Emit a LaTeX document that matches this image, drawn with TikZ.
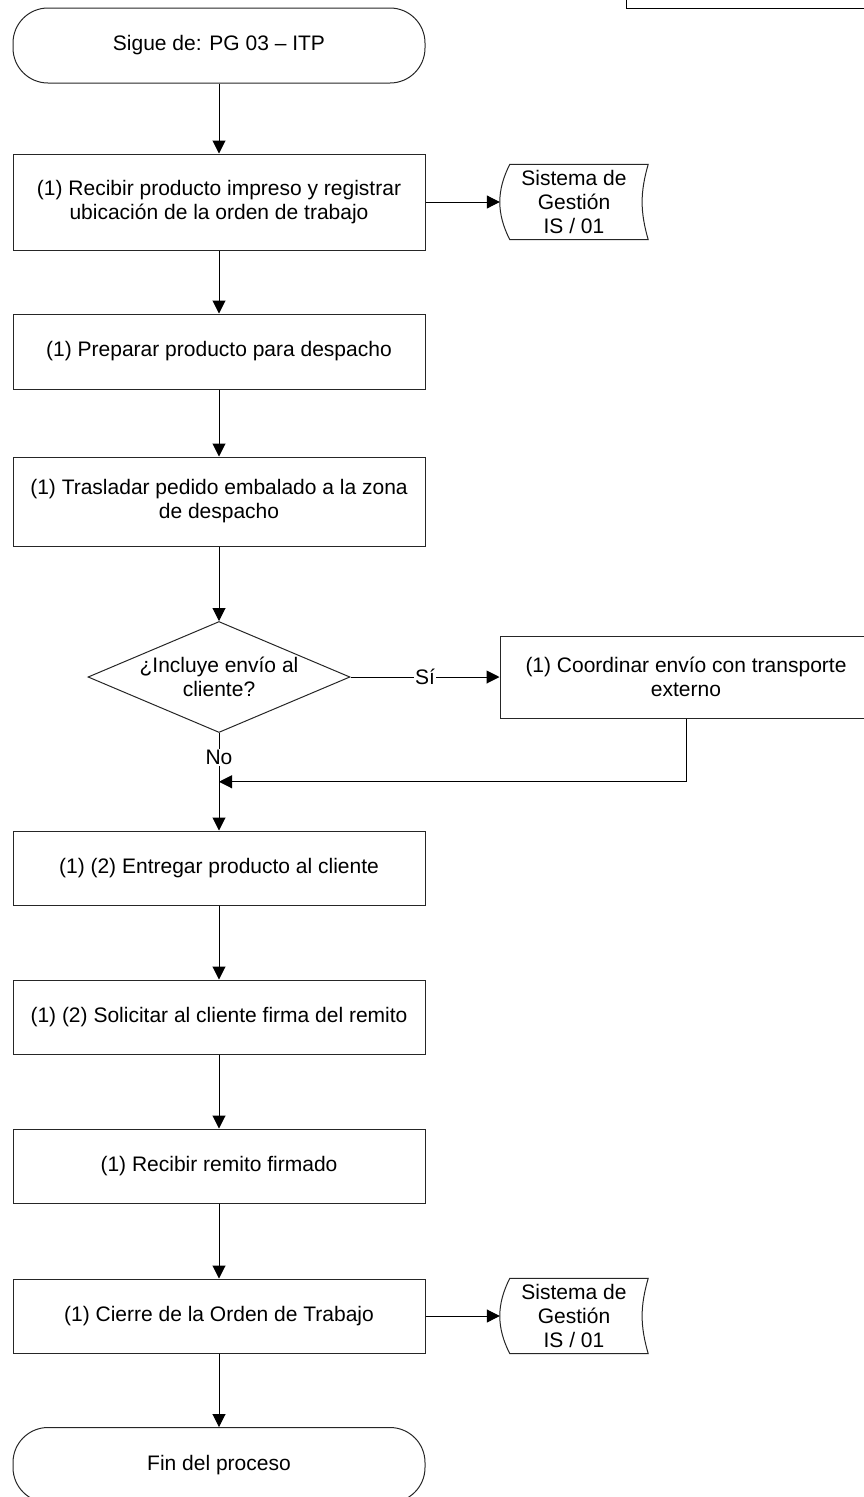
\documentclass[tikz,border=0pt]{standalone}
\usepackage{fontspec}
\setmainfont{Liberation Sans}
\usetikzlibrary{arrows.meta,calc,shapes.geometric}

\tikzset{
  link/.style={line width=1pt},
  flow/.style={link, -{Triangle[length=13pt,width=13pt]}},
  proc/.style={draw=black!85, line width=1pt, rectangle, minimum width=412pt, align=center, inner sep=0pt},
  term/.style={draw=black!85, line width=1pt, rectangle, rounded corners=35pt, minimum width=412pt, minimum height=75pt},
  query/.style={draw=black!85, line width=1pt, diamond, aspect=2.36, minimum width=262pt, minimum height=111pt, inner xsep=-8pt, inner ysep=0pt, align=center},
  stored/.style={minimum width=148pt, minimum height=75pt, inner sep=0pt, align=center},
  tag/.style={fill=white, inner sep=1pt}
}

% outline of the stored-data symbol around a node
\newcommand{\storeedge}[1]{%
  \draw[link, draw=black!85] ([xshift=10pt]#1.north west) -- (#1.north east)
    to[bend right=16] (#1.south east) -- ([xshift=10pt]#1.south west)
    to[bend left=27] ([xshift=10pt]#1.north west) -- cycle;}

\begin{document}
\begin{tikzpicture}[node distance=149.5pt, every node/.style={font=\fontsize{21}{24}\selectfont}]
  \useasboundingbox (0,0) rectangle (864pt,-1497pt);
  \clip (0,0) rectangle (864pt,-1497pt);
  % box cut off at the top right
  \draw[link] (626pt,-8pt) rectangle (900pt,30pt);

  \node (start) [term] at (219pt,-45.5pt) {Sigue de: PG 03 -- ITP};
  \node (recv) [proc, minimum height=96pt, node distance=156.5pt, below of=start] {(1) Recibir producto impreso y registrar\\ubicación de la orden de trabajo};
  \node (prep) [proc, minimum height=75pt, below of=recv] {(1) Preparar producto para despacho};
  \node (move) [proc, minimum height=89pt, node distance=150pt, below of=prep] {(1) Trasladar pedido embalado a la zona\\de despacho};
  \node (ship) [query, node distance=175.5pt, below of=move] {¿Incluye envío al\\cliente?};
  \node (coord) [proc, minimum width=372pt, minimum height=82pt, node distance=467pt, right of=ship] {(1) Coordinar envío con transporte\\externo};
  \node (deliver) [proc, minimum height=74pt, node distance=191pt, below of=ship] {(1) (2) Entregar producto al cliente};
  \node (sign) [proc, minimum height=74pt, node distance=149pt, below of=deliver] {(1) (2) Solicitar al cliente firma del remito};
  \node (back) [proc, minimum height=74pt, node distance=149pt, below of=sign] {(1) Recibir remito firmado};
  \node (close) [proc, minimum height=74pt, node distance=150pt, below of=back] {(1) Cierre de la Orden de Trabajo};
  \node (stop) [term, node distance=149pt, below of=close] {Fin del proceso};
  \node (sys1) [stored, node distance=355pt, right of=recv] {Sistema de\\Gestión\\IS / 01};
  \node (sys2) [stored, node distance=355pt, right of=close] {Sistema de\\Gestión\\IS / 01};
  \storeedge{sys1}
  \storeedge{sys2}

  \coordinate (merge) at ($(ship.south)!0.5!(deliver.north)$);

  \draw[flow] (start) -- (recv);
  \draw[flow] (recv) -- (sys1);
  \draw[flow] (recv) -- (prep);
  \draw[flow] (prep) -- (move);
  \draw[flow] (move) -- (ship);
  \draw[flow] (ship) -- node[tag] {Sí} (coord);
  \draw[link] (ship.south) -- node[tag] {No} (merge);
  \draw[flow] (coord.south) |- (merge);
  \draw[flow] (merge) -- (deliver);
  \draw[flow] (deliver) -- (sign);
  \draw[flow] (sign) -- (back);
  \draw[flow] (back) -- (close);
  \draw[flow] (close) -- (sys2);
  \draw[flow] (close) -- (stop);
\end{tikzpicture}
\end{document}
